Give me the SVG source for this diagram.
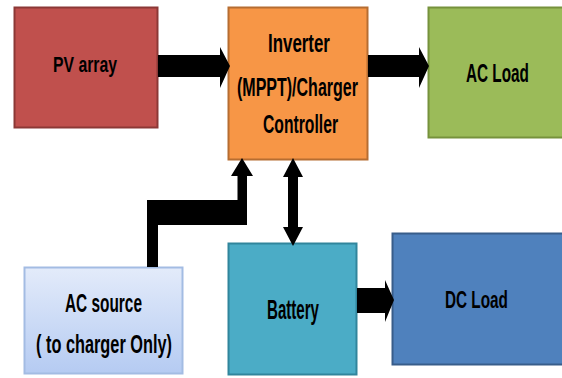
<svg xmlns="http://www.w3.org/2000/svg" width="562" height="378" viewBox="0 0 562 378">
<defs>
<linearGradient id="gSrc" x1="0" y1="0" x2="0" y2="1">
<stop offset="0" stop-color="#E3EBFA"/>
<stop offset="1" stop-color="#B5CBF2"/>
</linearGradient>
<style>
.box{stroke-width:2}
.t{font-family:"Liberation Sans",Arial,sans-serif;font-weight:bold;fill:#000}
.c{fill:#000;stroke:none}
</style>
</defs>
<rect width="562" height="378" fill="#FFFFFF"/>
<g id="pv-array">
<rect class="box" x="14.5" y="7.5" width="143" height="120" fill="#C0504D" stroke="#8C3836"/>
<text class="t" transform="translate(53,72) scale(0.717,1)" font-size="22">PV array</text>
</g>
<g id="inverter">
<rect class="box" x="228.5" y="7.5" width="139" height="152" fill="#F79646" stroke="#B66D31"/>
<text class="t" transform="translate(268,52) scale(0.65,1)" font-size="26">Inverter</text>
<text class="t" transform="translate(237,96) scale(0.616,1)" font-size="26">(MPPT)/Charger</text>
<text class="t" transform="translate(263,133) scale(0.604,1)" font-size="26">Controller</text>
</g>
<g id="ac-load">
<rect class="box" x="428.5" y="7.5" width="135" height="130" fill="#9BBB59" stroke="#76923C"/>
<text class="t" transform="translate(466,82) scale(0.578,1)" font-size="26.5">AC Load</text>
</g>
<g id="ac-source">
<rect class="box" x="24.5" y="267.5" width="158" height="106" fill="url(#gSrc)" stroke="#A3BCE3"/>
<text class="t" transform="translate(65,312) scale(0.581,1)" font-size="26.5">AC source</text>
<text class="t" transform="translate(36,353) scale(0.616,1)" font-size="26.5">( to charger Only)</text>
</g>
<g id="battery">
<rect class="box" x="228.5" y="243.5" width="128" height="131" fill="#4BACC6" stroke="#31859C"/>
<text class="t" transform="translate(267,319) scale(0.559,1)" font-size="27">Battery</text>
</g>
<g id="dc-load">
<rect class="box" x="392.5" y="233.5" width="171" height="131" fill="#4F81BD" stroke="#385D8A"/>
<text class="t" transform="translate(445,308) scale(0.666,1)" font-size="23">DC Load</text>
</g>
<g id="connectors">
<polygon class="c" points="158,55 220,55 220,47 230,66 220,88 220,77 158,77"/>
<polygon class="c" points="368,55 419,55 419,47 429,66 419,88 419,77 368,77"/>
<polygon class="c" points="147,267 147,200 237.5,200 237.5,176 231,176 242,158 253,176 247,176 247,225 158,225 158,267"/>
<polygon class="c" points="293,158 303,177 298,177 298,227 303,227 293,246 283,227 288,227 288,177 283,177"/>
<polygon class="c" points="357,288 385,288 385,280 394,300 385,322 385,313 357,313"/>
</g>
</svg>
